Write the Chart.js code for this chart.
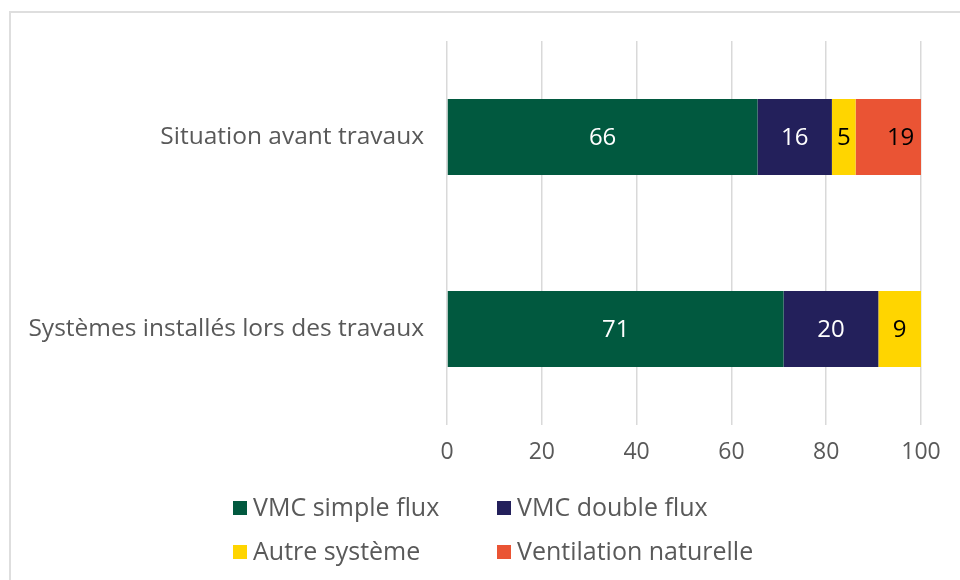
<!DOCTYPE html>
<html>
<head>
<meta charset="utf-8">
<script src="https://cdn.jsdelivr.net/npm/chart.js@4/dist/chart.umd.min.js"></script>
<style>
  html, body { margin: 0; padding: 0; background: #ffffff; overflow: hidden; }
  #wrap { position: relative; width: 960px; height: 580px; }
  #frame { position: absolute; left: 9px; top: 11px; width: 1000px; height: 1000px;
           border: 2px solid #dedede; box-sizing: border-box; pointer-events: none; }
  canvas { position: absolute; left: 0; top: 0; }
</style>
</head>
<body>
<div id="wrap">
  <div id="frame"></div>
  <canvas id="c" width="960" height="580"></canvas>
</div>
<script>
// ---- Data ----
const categories = ["Situation avant travaux", "Systèmes installés lors des travaux"];
const seriesNames = ["VMC simple flux", "VMC double flux", "Autre système", "Ventilation naturelle"];
const vmcSimpleFlux = [65.5, 71];
const vmcDoubleFlux = [15.7, 20];
const autreSysteme = [5, 9];
const ventilationNaturelle = [19, null];
const xTicks = [0, 20, 40, 60, 80, 100];

const seriesColors = ["#01593F", "#23205B", "#FFD500", "#EA5434"];
const labelColors = ["#ffffff", "#ffffff", "#000000", "#000000"];
const FONT = "'Open Sans', sans-serif";
const TEXT = "#595959";

const values = [vmcSimpleFlux, vmcDoubleFlux, autreSysteme, ventilationNaturelle];

const dataLabelsPlugin = {
  id: 'dataLabels',
  afterDatasetsDraw(chart) {
    const ctx = chart.ctx;
    ctx.save();
    ctx.font = "24px " + FONT;
    ctx.textAlign = 'center';
    ctx.textBaseline = 'middle';
    chart.data.datasets.forEach((ds, i) => {
      const meta = chart.getDatasetMeta(i);
      meta.data.forEach((el, j) => {
        const v = ds.data[j];
        if (v === null || v === undefined) return;
        const cx = (el.x + el.base) / 2;
        ctx.fillStyle = labelColors[i];
        ctx.fillText(String(Math.round(v)), cx, el.y + 1);
      });
    });
    ctx.restore();
  }
};

const customLegend = {
  id: 'customLegend',
  afterDraw(chart, args, opts) {
    const ctx = chart.ctx;
    ctx.save();
    ctx.font = "25px " + FONT;
    ctx.textAlign = 'left';
    ctx.textBaseline = 'middle';
    const cols = opts.cols, rows = opts.rows;
    seriesNames.forEach((name, i) => {
      const x = cols[i % 2];
      const y = rows[Math.floor(i / 2)];
      ctx.fillStyle = seriesColors[i];
      ctx.fillRect(x, y - 7, 14, 14);
      ctx.fillStyle = TEXT;
      ctx.fillText(name, x + 20, y + 1);
    });
    ctx.restore();
  }
};

new Chart(document.getElementById('c'), {
  type: 'bar',
  data: {
    labels: categories,
    datasets: seriesNames.map((name, i) => ({
      label: name,
      data: values[i],
      backgroundColor: seriesColors[i],
      borderWidth: 0,
      categoryPercentage: 1,
      barPercentage: 0.396
    }))
  },
  options: {
    indexAxis: 'y',
    responsive: false,
    animation: false,
    layout: { padding: { left: 0, right: 39, top: 41, bottom: 95 } },
    plugins: {
      legend: { display: false },
      tooltip: { enabled: false },
      customLegend: { cols: [233, 497], rows: [508, 552] }
    },
    scales: {
      x: {
        stacked: true,
        min: 0,
        max: 100,
        afterBuildTicks(scale) { scale.ticks = xTicks.map(v => ({ value: v })); },
        afterFit(scale) { scale.height = 60; },
        grid: { color: '#d9d9d9', lineWidth: 1.5, drawTicks: false },
        border: { display: false },
        ticks: { font: { family: FONT, size: 23 }, color: TEXT, padding: 14 }
      },
      y: {
        stacked: true,
        afterFit(scale) { scale.width = 447; },
        grid: { display: false, drawTicks: false },
        border: { display: false },
        ticks: { font: { family: FONT, size: 24.5 }, color: TEXT, padding: 23 }
      }
    }
  },
  plugins: [dataLabelsPlugin, customLegend]
});
</script>
</body>
</html>
